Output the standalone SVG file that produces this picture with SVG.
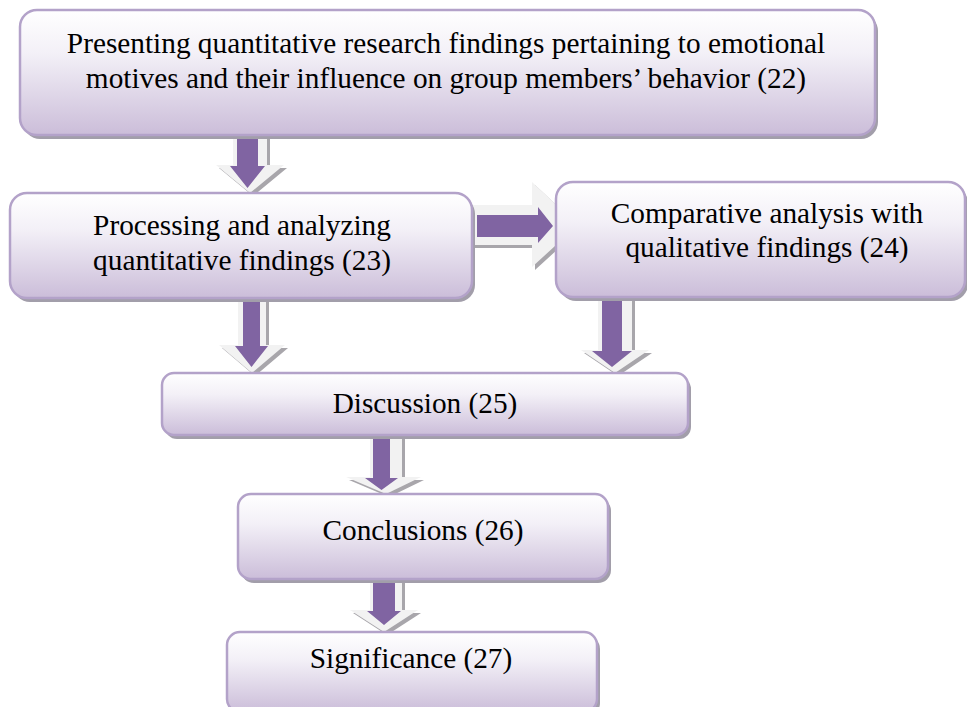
<svg xmlns="http://www.w3.org/2000/svg" width="967" height="707" viewBox="0 0 967 707">
  <defs>
    <linearGradient id="boxFill" x1="0" y1="0" x2="0" y2="1">
      <stop offset="0" stop-color="#ffffff"/>
      <stop offset="0.35" stop-color="#f3f0f7"/>
      <stop offset="1" stop-color="#cbbdd9"/>
    </linearGradient>
  </defs>
  <style>
    .shadow { fill: #a29eaa; }
    .box { fill: url(#boxFill); stroke: #b3a2c9; stroke-width: 2.5; }
    .label { font-family: "Liberation Serif", "Times New Roman", serif; font-size: 29.3px; fill: #000000; text-anchor: middle; }
    .arrow-shadow { fill: #a8a6ab; }
    .arrow-outer { fill: #f2f2f2; }
    .arrow-inner { fill: #8064a2; }
  </style>
  <rect width="967" height="707" fill="#ffffff"/>

  <!-- connectors: block arrows (light outline, shadow, purple core) -->
  <g id="connectors">
    <!-- top box down to processing -->
    <g id="arrow-22-23">
      <path class="arrow-shadow" d="M236,138 H270 V168 H287 L253,196 L219,168 H236 Z"/>
      <path class="arrow-outer" d="M233,135 H267 V165 H284 L250,193 L216,165 H233 Z"/>
      <path class="arrow-inner" d="M237,135 H258 V166 H265 L247.5,188 L230,166 H237 Z"/>
    </g>
    <!-- processing right to comparative -->
    <g id="arrow-23-24">
      <path class="arrow-shadow" d="M470,208 H535 V185 L581,228 L535,270 V248 H470 Z"/>
      <path class="arrow-outer" d="M468,205 H532 V182 L578,225 L532,267 V245 H468 Z"/>
      <path class="arrow-inner" d="M477,215 H538 V207 L553,226 L538,243 V237 H477 Z"/>
    </g>
    <!-- processing down to discussion -->
    <g id="arrow-23-25">
      <path class="arrow-shadow" d="M241,300 H269 V348 H288 L255,376 L222,348 H241 Z"/>
      <path class="arrow-outer" d="M238,296 H266 V345 H285 L252,373 L219,345 H238 Z"/>
      <path class="arrow-inner" d="M243,296 H260 V346 H268 L251.5,367 L235,346 H243 Z"/>
    </g>
    <!-- comparative down to discussion -->
    <g id="arrow-24-25">
      <path class="arrow-shadow" d="M601,300 H635 V353 H652 L618,376 L584,353 H601 Z"/>
      <path class="arrow-outer" d="M598,296 H632 V350 H649 L615,373 L581,350 H598 Z"/>
      <path class="arrow-inner" d="M602,296 H622 V351 H632 L612,367 L592,351 H602 Z"/>
    </g>
    <!-- discussion down to conclusions -->
    <g id="arrow-25-26">
      <path class="arrow-shadow" d="M373,437 H405 V480 H424 L389,497 L349,480 H373 Z"/>
      <path class="arrow-outer" d="M370,434 H402 V477 H421 L386,494 L346,477 H370 Z"/>
      <path class="arrow-inner" d="M373,434 H390 V478 H398 L381.5,490 L365,478 H373 Z"/>
    </g>
    <!-- conclusions down to significance -->
    <g id="arrow-26-27">
      <path class="arrow-shadow" d="M373,582 H405 V613 H421 L387,635 L353,613 H373 Z"/>
      <path class="arrow-outer" d="M370,579 H402 V610 H418 L384,632 L350,610 H370 Z"/>
      <path class="arrow-inner" d="M373,579 H395 V611 H401 L384,625 L367,611 H373 Z"/>
    </g>
  </g>

  <!-- step boxes -->
  <g id="node-22">
    <rect class="shadow" x="23" y="14" width="855" height="125" rx="17"/>
    <rect class="box" x="20" y="10" width="855" height="125" rx="17"/>
    <text class="label" x="446" y="53">Presenting quantitative research findings pertaining to emotional</text>
    <text class="label" x="446" y="88">motives and their influence on group members’ behavior (22)</text>
  </g>

  <g id="node-23">
    <rect class="shadow" x="13" y="197" width="462" height="105" rx="17"/>
    <rect class="box" x="10" y="193" width="462" height="105" rx="17"/>
    <text class="label" x="242" y="235">Processing and analyzing</text>
    <text class="label" x="242" y="270">quantitative findings (23)</text>
  </g>

  <g id="node-24">
    <rect class="shadow" x="559" y="186" width="409" height="115" rx="17"/>
    <rect class="box" x="556" y="182" width="409" height="115" rx="17"/>
    <text class="label" x="767" y="223">Comparative analysis with</text>
    <text class="label" x="767" y="257">qualitative findings (24)</text>
  </g>

  <g id="node-25">
    <rect class="shadow" x="165" y="377" width="526" height="62" rx="12"/>
    <rect class="box" x="162" y="373" width="526" height="62" rx="12"/>
    <text class="label" x="425" y="413">Discussion (25)</text>
  </g>

  <g id="node-26">
    <rect class="shadow" x="241" y="498" width="370" height="85" rx="13"/>
    <rect class="box" x="238" y="494" width="370" height="85" rx="13"/>
    <text class="label" x="423" y="540">Conclusions (26)</text>
  </g>

  <g id="node-27">
    <rect class="shadow" x="230" y="636" width="370" height="80" rx="13"/>
    <rect class="box" x="227" y="632" width="370" height="80" rx="13"/>
    <text class="label" x="411" y="668">Significance (27)</text>
  </g>
</svg>
